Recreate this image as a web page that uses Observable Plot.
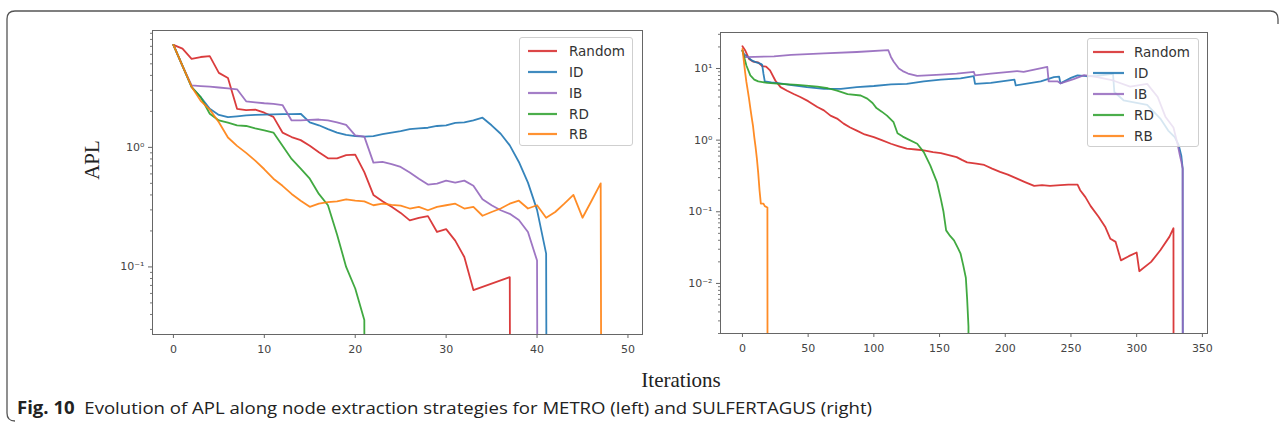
<!DOCTYPE html>
<html><head><meta charset="utf-8">
<script src="https://cdn.jsdelivr.net/npm/d3@7"></script>
<script src="https://cdn.jsdelivr.net/npm/@observablehq/plot@0.6"></script>
<style>
body{margin:0;background:#fff;}
#fig{position:relative;width:1284px;height:428px;overflow:hidden;background:#fff;}
#fig > svg, #fig > div{position:absolute;}
.legend{background:rgba(255,255,255,0.8);border:1px solid #cfcfcf;border-radius:3px;box-sizing:border-box;font-family:"DejaVu Sans",sans-serif;font-size:13.5px;color:#333;}
.legend .row{position:absolute;height:20px;line-height:20px;white-space:nowrap;}
.serif{font-family:"Liberation Serif","Times New Roman",serif;font-size:21px;color:#222;white-space:nowrap;line-height:1;}
#caption{font-family:"Liberation Sans Narrow","Open Sans",sans-serif;font-size:17px;color:#222;white-space:nowrap;line-height:1;transform-origin:0 0;}
#caption b{font-weight:bold;}
</style></head><body><div id="fig"></div>
<script>
const seriesNames = ["Random", "ID", "IB", "RD", "RB"];
const seriesColors = ["#d62728", "#1f77b4", "#9467bd", "#2ca02c", "#ff7f0e"];

// METRO (left): [iteration, APL]; 0 means the APL dropped to zero
const metroRandom = [[0,7.2],[1,6.7],[2,5.5],[3,5.7],[4,5.8],[5,4.2],[6,3.8],[7,2.1],[8,2.05],[9,2.07],[10,1.95],[11,1.8],[12,1.33],[13,1.22],[14,1.15],[15,1.03],[16,0.91],[17,0.81],[18,0.81],[19,0.86],[20,0.87],[21,0.62],[22,0.40],[23,0.354],[24,0.318],[25,0.283],[26,0.245],[27,0.257],[28,0.266],[29,0.196],[30,0.207],[31,0.166],[32,0.121],[33,0.064],[37,0.082],[38,0]];
const metroID = [[0,7.2],[1,4.8],[2,3.2],[3,2.63],[4,2.1],[5,1.87],[6,1.79],[7,1.82],[8,1.85],[9,1.87],[10,1.88],[11,1.89],[12,1.9],[13,1.9],[14,1.91],[15,1.62],[16,1.53],[17,1.42],[18,1.33],[19,1.27],[20,1.24],[21,1.23],[22,1.24],[23,1.29],[24,1.33],[25,1.37],[26,1.42],[27,1.44],[28,1.46],[29,1.51],[30,1.53],[31,1.6],[32,1.62],[33,1.68],[34,1.77],[35,1.53],[36,1.3],[37,1.04],[38,0.755],[39,0.507],[40,0.3],[41,0.129],[42,0]];
const metroIB = [[0,7.2],[1,4.8],[2,3.3],[3,3.26],[4,3.22],[5,3.17],[6,3.12],[7,3.06],[8,2.43],[9,2.38],[10,2.34],[11,2.31],[12,2.26],[13,1.68],[14,1.68],[15,1.7],[16,1.71],[17,1.68],[18,1.62],[19,1.54],[20,1.26],[21,1.23],[22,0.745],[23,0.755],[24,0.725],[25,0.686],[26,0.617],[27,0.547],[28,0.488],[29,0.497],[30,0.527],[31,0.507],[32,0.527],[33,0.477],[34,0.368],[35,0.328],[36,0.298],[37,0.278],[38,0.247],[39,0.196],[40,0.113],[41,0]];
const metroRD = [[0,7.2],[1,4.8],[2,3.2],[3,2.63],[4,1.91],[5,1.68],[6,1.61],[7,1.53],[8,1.51],[9,1.44],[10,1.39],[11,1.33],[12,1.03],[13,0.8],[14,0.665],[15,0.547],[16,0.408],[17,0.328],[18,0.187],[19,0.1],[20,0.066],[21,0.036],[22,0]];
const metroRB = [[0,7.2],[1,4.8],[2,3.22],[3,2.45],[4,2.07],[5,1.62],[6,1.21],[7,1.03],[8,0.9],[9,0.774],[10,0.656],[11,0.547],[12,0.477],[13,0.408],[14,0.358],[15,0.318],[16,0.338],[17,0.348],[18,0.353],[19,0.368],[20,0.358],[21,0.353],[22,0.328],[23,0.338],[24,0.33],[25,0.325],[26,0.308],[27,0.318],[28,0.298],[29,0.318],[30,0.328],[31,0.338],[32,0.308],[33,0.318],[34,0.268],[35,0.288],[36,0.308],[37,0.338],[38,0.358],[39,0.308],[40,0.328],[41,0.258],[42,0.288],[43,0.338],[44,0.4],[45,0.258],[46,0.358],[47,0.5],[48,0]];

// SULFERTAGUS (right): [iteration, APL]
const sulferRandom = [[0,20.5],[2,18],[5,13.6],[8,12.5],[12,12.2],[15,10.8],[18,10.6],[21,9.4],[25,6.8],[29,5.5],[34,4.9],[39,4.4],[44,4.0],[50,3.5],[57,2.9],[62,2.6],[67,2.2],[72,2.0],[77,1.7],[82,1.5],[87,1.36],[93,1.2],[100,1.1],[106,1.0],[113,0.89],[119,0.82],[125,0.76],[132,0.74],[138,0.72],[145,0.68],[151,0.66],[157,0.62],[163,0.58],[167,0.53],[171,0.49],[178,0.47],[184,0.45],[190,0.40],[196,0.36],[202,0.33],[209,0.29],[215,0.26],[222,0.23],[228,0.235],[234,0.23],[242,0.235],[248,0.24],[255,0.24],[257,0.20],[261,0.16],[265,0.12],[271,0.085],[276,0.062],[280,0.042],[284,0.038],[288,0.021],[294,0.024],[300,0.027],[302,0.0148],[311,0.02],[318,0.029],[325,0.045],[328,0.059],[329,0]];
const sulferID = [[0,17.8],[1,16],[4,14.5],[7,13],[10,12.3],[14,11.6],[15,11.3],[16,8.4],[17,6.6],[22,6.4],[26,6.3],[36,5.9],[49,5.5],[62,5.2],[75,5.2],[87,5.5],[100,5.7],[113,6.0],[125,6.1],[138,6.6],[151,7.0],[166,7.3],[176,7.8],[177,6.1],[189,6.3],[207,7.0],[208,5.8],[227,6.6],[237,7.6],[241,7.7],[242,6.2],[250,7.4],[255,8.0],[262,7.8],[270,7.9],[282,8.4],[283,4.7],[290,3.6],[308,3.1],[318,2.0],[324,1.36],[329,1.1],[332,0.85],[334,0.6],[335,0.4],[336,0]];
const sulferIB = [[0,17.8],[2,14.4],[24,14.8],[37,15.5],[62,16.3],[87,17],[111,18],[113,14.5],[115,12.5],[119,10],[122,9.2],[126,8.5],[133,7.9],[151,8.2],[163,8.5],[176,9.0],[177,8.0],[189,8.5],[209,9.2],[214,9.0],[232,10.5],[233,6.6],[240,6.6],[242,6.2],[252,7.1],[260,8.1],[270,7.6],[282,6.8],[295,5.6],[308,6.1],[316,4.0],[322,2.1],[328,1.5],[331,0.9],[333,0.6],[334,0.5],[335,0.4],[336,0]];
const sulferRD = [[0,17.8],[3,11],[6,8],[9,7.0],[12,6.6],[19,6.3],[29,6.1],[42,5.9],[57,5.6],[65,5.3],[72,4.9],[80,4.4],[90,4.2],[95,3.8],[99,3.3],[102,2.8],[106,2.5],[110,2.2],[115,1.78],[118,1.25],[122,1.12],[125,1.05],[133,0.89],[138,0.68],[143,0.44],[148,0.26],[151,0.15],[153,0.10],[155,0.055],[158,0.046],[161,0.04],[164,0.031],[166,0.026],[168,0.018],[170,0.012],[171,0.006],[172,0.0025],[173,0]];
const sulferRB = [[0,18.8],[1,13],[2,9],[3,6.5],[4,5],[5,3.8],[6,2.8],[7,2.1],[8,1.6],[9,1.1],[10,0.8],[11,0.55],[12,0.35],[13,0.2],[14,0.13],[16,0.13],[17,0.12],[19,0.115],[20,0]];

const metroXTicks = [0, 10, 20, 30, 40, 50];
const metroYTicks = [1, 0.1];
const sulferXTicks = [0, 50, 100, 150, 200, 250, 300, 350];
const sulferYTicks = [10, 1, 0.1, 0.01];

const axisTitleY = "APL";
const axisTitleX = "Iterations";
const captionLead = "Fig. 10";
const captionText = "Evolution of APL along node extraction strategies for METRO (left) and SULFERTAGUS (right)";

const SUP = {"-":"\u207B","0":"\u2070","1":"\u00B9","2":"\u00B2","3":"\u00B3","4":"\u2074","5":"\u2075","6":"\u2076","7":"\u2077","8":"\u2078","9":"\u2079"};
const pow10 = v => "10" + String(Math.round(Math.log10(v))).replace(/./g, c => SUP[c]);

function rows(list) {
  return list.flatMap((s, k) => s.map(([x, y]) => ({x, y, s: seriesNames[k]})));
}
function minorTicks(lo, hi) {
  const out = [];
  for (let e = Math.floor(Math.log10(lo)); e <= Math.ceil(Math.log10(hi)); e++)
    for (let m = 2; m <= 9; m++) { const v = m * Math.pow(10, e); if (v >= lo && v <= hi) out.push(v); }
  return out;
}

function panel(data, o) {
  return Plot.plot({
    width: o.width, height: o.height,
    marginLeft: o.ml, marginRight: o.mr, marginTop: o.mt, marginBottom: o.mb,
    style: {fontFamily: "DejaVu Sans, sans-serif", fontSize: "11px", color: "#444", background: "transparent", overflow: "visible"},
    x: {domain: o.xd},
    y: {type: "log", domain: o.yd},
    color: {domain: seriesNames, range: seriesColors},
    marks: [
      Plot.line(data, {x: "x", y: d => Math.max(d.y, 1e-30), z: "s", stroke: "s", strokeWidth: 1.8, strokeOpacity: 0.9, clip: true}),
      Plot.frame({stroke: "#666", strokeWidth: 1}),
      Plot.axisX({ticks: o.xt, tickSize: 4, tickPadding: 7, label: null, tickFormat: d => String(d), stroke: "#666"}),
      Plot.axisY({ticks: o.yt, tickSize: 4, tickPadding: 4, label: null, tickFormat: pow10, stroke: "#666"}),
      Plot.axisY({ticks: minorTicks(o.yd[0], o.yd[1]), tickSize: 2, label: null, tickFormat: () => "", stroke: "#777"})
    ]
  });
}

const fig = document.getElementById("fig");

// frame border (decorative)
const border = document.createElementNS("http://www.w3.org/2000/svg", "svg");
border.setAttribute("width", 1284); border.setAttribute("height", 428);
border.style.left = "0px"; border.style.top = "0px";
border.innerHTML = '<path d="M15 421 Q7 421 7 413 L7 19 Q7 11 15 11 L1270 11 Q1278 11 1278 19 L1278 24" fill="none" stroke="#555" stroke-width="1.3"/>';
fig.appendChild(border);

const left = panel(rows([metroRandom, metroID, metroIB, metroRD, metroRB]), {
  width: 660, height: 370, ml: 152, mr: 18, mt: 30, mb: 36,
  xd: [-2.3, 51.6], yd: [0.0272, 9.5], xt: metroXTicks, yt: metroYTicks
});
left.style.left = "0px"; left.style.top = "0px";
fig.appendChild(left);

const right = panel(rows([sulferRandom, sulferID, sulferIB, sulferRD, sulferRB]), {
  width: 624, height: 370, ml: 60, mr: 77, mt: 32, mb: 37,
  xd: [-16.7, 353.9], yd: [0.002, 31.8], xt: sulferXTicks, yt: sulferYTicks
});
right.style.left = "660px"; right.style.top = "0px";
fig.appendChild(right);

function legend(x, y, w, h, lineX0, lineX1, textX, rowY) {
  const box = document.createElement("div");
  box.className = "legend";
  Object.assign(box.style, {left: x + "px", top: y + "px", width: w + "px", height: h + "px"});
  seriesNames.forEach((name, k) => {
    const r = document.createElement("div");
    r.className = "row";
    r.style.left = "0px"; r.style.top = (rowY[k] - 10) + "px"; r.style.width = w + "px";
    r.innerHTML = `<svg width="${w}" height="20" style="position:absolute;left:0;top:0"><line x1="${lineX0}" x2="${lineX1}" y1="10" y2="10" stroke="${seriesColors[k]}" stroke-width="2.2" stroke-opacity="0.85"/></svg><span style="position:absolute;left:${textX}px;top:0">${name}</span>`;
    box.appendChild(r);
  });
  fig.appendChild(box);
}
legend(519, 37, 114, 109, 8, 37, 49, [13, 34, 55, 76, 96]);
legend(1087, 38, 112, 109, 5, 36, 46, [13, 34, 55, 76, 97]);

const apl = document.createElement("div");
apl.className = "serif"; apl.textContent = axisTitleY;
Object.assign(apl.style, {left: "92px", top: "160px", transform: "translate(-50%,-50%) rotate(-90deg)"});
fig.appendChild(apl);

const it = document.createElement("div");
it.className = "serif"; it.textContent = axisTitleX;
Object.assign(it.style, {left: "681px", top: "380px", transform: "translate(-50%,-50%)"});
fig.appendChild(it);

const cap = document.createElement("div");
cap.id = "caption";
cap.innerHTML = `<b>${captionLead}</b>&nbsp;&nbsp;${captionText}`;
Object.assign(cap.style, {left: "17px", top: "399px"});
fig.appendChild(cap);
const cw = cap.getBoundingClientRect().width;
if (cw > 0) cap.style.transform = `scaleX(${855 / cw})`;
</script></body></html>
